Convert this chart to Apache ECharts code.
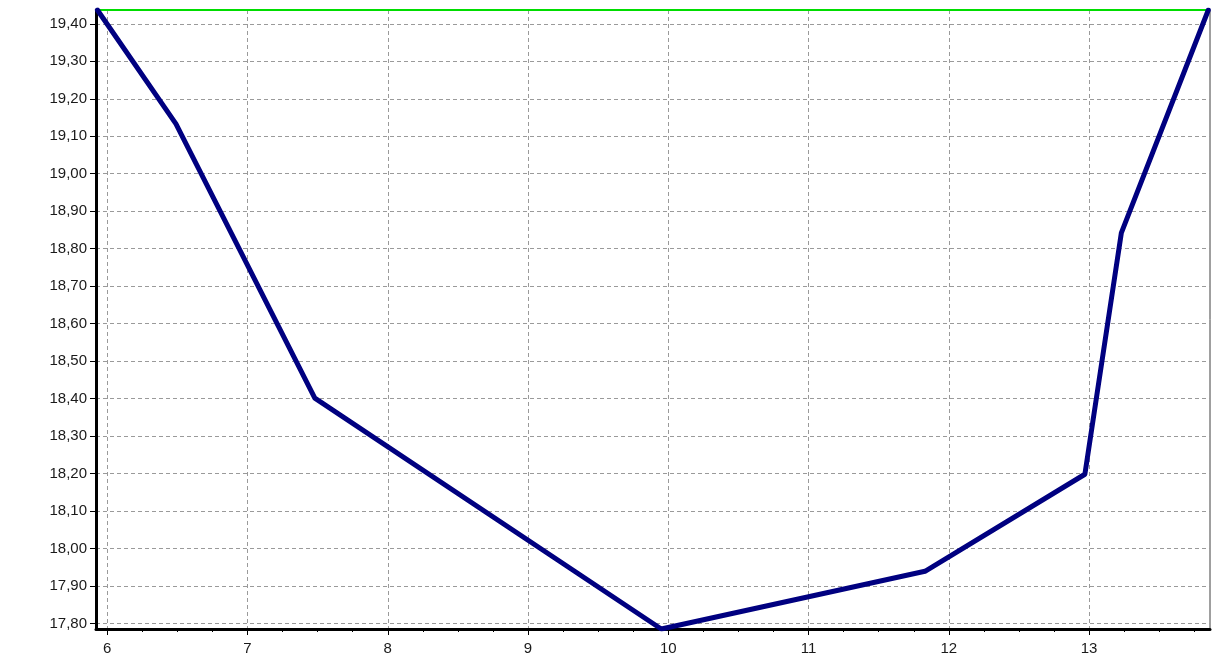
<!DOCTYPE html>
<html>
<head>
<meta charset="utf-8">
<script src="https://cdn.jsdelivr.net/npm/echarts@6/dist/echarts.min.js"></script>
<style>
  html, body { margin: 0; padding: 0; background: #fff; }
  #chart { width: 1214px; height: 660px; }
</style>
</head>
<body>
<div id="chart"></div>
<script>
// Curve points (x, value)
const curveX = [5.93, 6.49, 7.48, 9.95, 11.83, 12.97, 13.23, 13.85];
const curveY = [19.437, 19.133, 18.401, 17.785, 17.939, 18.198, 18.842, 19.437];

// Upper limit line
const limitValue = 19.437;

// Axis extents and tick values
const xMin = 5.92, xMax = 13.862;
const yMin = 17.785, yMax = 19.437;
const xTicks = [6, 7, 8, 9, 10, 11, 12, 13];
const xMinorTicks = [6.25, 6.5, 6.75, 7.25, 7.5, 7.75, 8.25, 8.5, 8.75, 9.25, 9.5, 9.75,
                     10.25, 10.5, 10.75, 11.25, 11.5, 11.75, 12.25, 12.5, 12.75, 13.25, 13.5, 13.75];
const yTicks = [17.8, 17.9, 18.0, 18.1, 18.2, 18.3, 18.4, 18.5, 18.6, 18.7, 18.8,
                18.9, 19.0, 19.1, 19.2, 19.3, 19.4];

const labelFont = { fontFamily: 'Liberation Sans, Arial, sans-serif', fontSize: 15, color: '#1a1a1a' };
const gridDash = { type: [4, 3], color: '#9a9a9a', width: 1 };

const chart = echarts.init(document.getElementById('chart'), null, { renderer: 'canvas' });

chart.setOption({
  animation: false,
  backgroundColor: '#ffffff',
  grid: {
    left: 96, top: 10, right: 4, bottom: 31,
    show: true, borderColor: '#404040', borderWidth: 1, backgroundColor: '#ffffff'
  },
  xAxis: [
    {
      type: 'value', min: xMin, max: xMax, position: 'bottom',
      axisLine: { show: true, onZero: false, lineStyle: { color: '#000', width: 3 } },
      axisTick: { show: true, length: 6, customValues: xTicks, lineStyle: { color: '#000', width: 1 } },
      axisLabel: Object.assign({ customValues: xTicks, margin: 12, formatter: v => String(v) }, labelFont),
      splitLine: { show: true, lineStyle: gridDash }
    },
    {
      // quarter-step minor ticks along the bottom axis
      type: 'value', min: xMin, max: xMax, position: 'bottom',
      axisLine: { show: false, onZero: false },
      axisTick: { show: true, length: 3, customValues: xMinorTicks, lineStyle: { color: '#000', width: 1 } },
      axisLabel: { show: false },
      splitLine: { show: false }
    }
  ],
  yAxis: {
    type: 'value', min: yMin, max: yMax,
    axisLine: { show: true, onZero: false, lineStyle: { color: '#000', width: 3 } },
    axisTick: { show: true, length: 6, customValues: yTicks, lineStyle: { color: '#000', width: 1 } },
    axisLabel: Object.assign({
      customValues: yTicks, margin: 9,
      formatter: v => v.toFixed(2).replace('.', ',')
    }, labelFont),
    splitLine: { show: true, lineStyle: gridDash }
  },
  series: [
    {
      type: 'line',
      name: 'limit',
      xAxisIndex: 0,
      data: [[xMin, limitValue], [xMax, limitValue]],
      symbol: 'none',
      clip: false,
      lineStyle: { color: '#00dd00', width: 2 },
      z: 3
    },
    {
      type: 'line',
      name: 'curve',
      xAxisIndex: 0,
      data: curveX.map((x, i) => [x, curveY[i]]),
      symbol: 'none',
      lineStyle: { color: '#000080', width: 5, join: 'round', cap: 'round' },
      z: 4
    }
  ]
});
</script>
</body>
</html>
